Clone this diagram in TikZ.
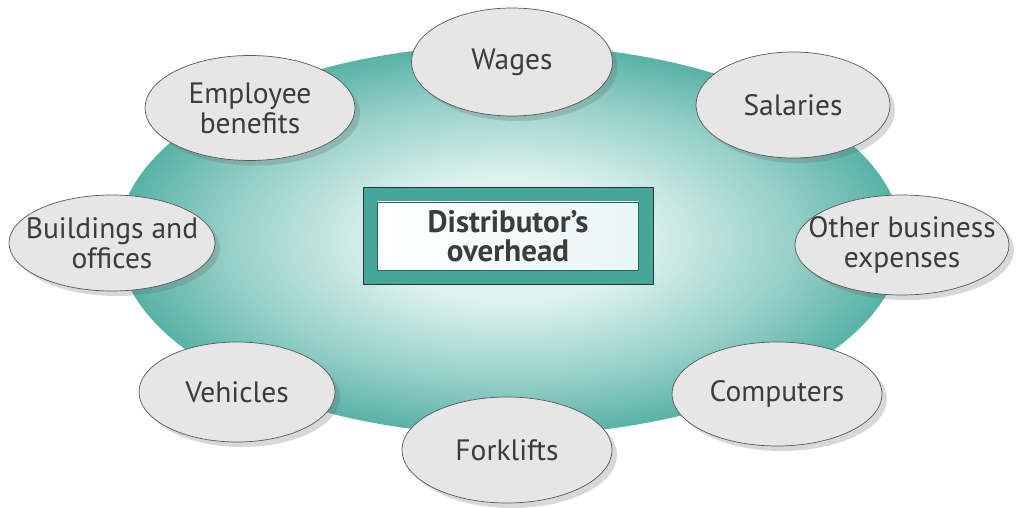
\documentclass[tikz,border=0pt]{standalone}
\usepackage{fontspec}
\setmainfont{PT Sans}
\usetikzlibrary{shapes.geometric,shadows}
\definecolor{tealedge}{RGB}{88,178,166}
\definecolor{tealmid}{RGB}{150,208,200}
\definecolor{tealcenter}{RGB}{222,242,240}
\definecolor{framecol}{RGB}{70,166,152}
\definecolor{txt}{RGB}{60,60,60}
\definecolor{bubble}{RGB}{230,230,230}
\pgfdeclareradialshading{tealglow}{\pgfpoint{0bp}{0bp}}{color(0bp)=(tealcenter); color(8bp)=(tealcenter); color(18bp)=(tealmid); color(25bp)=(tealedge); color(50bp)=(tealedge)}
\begin{document}
\begin{tikzpicture}[x=1pt,y=-1pt,
  bubblenode/.style={ellipse, draw=gray!70!black, line width=0.7pt, fill=bubble, inner xsep=-35pt, inner ysep=-12pt,
    text=txt, align=center, font=\fontsize{29.5}{30}\selectfont,
    drop shadow={shadow xshift=5pt, shadow yshift=-5pt, opacity=0.25, fill=gray!80!black}}]
\useasboundingbox (0,0) rectangle (1026,508);
\fill[white] (0,0) rectangle (1026,508);
% big background ellipse
\path[shading=tealglow] (510,240) ellipse [x radius=392, y radius=195];
% central box
\node (frame) [draw=black!80, line width=1pt, fill=framecol, minimum width=290pt, minimum height=97pt, inner sep=0pt] at (508,236) {};
\node (core) [draw=framecol!60!black, line width=0.5pt, left color=white, right color=tealcenter!70!white, minimum width=261pt, minimum height=68pt, inner sep=0pt, text=txt, align=center, font=\bfseries\fontsize{31}{29}\selectfont] at (508,236) {Distributor’s\\overhead};
% bubbles
\node (wages) [bubblenode, minimum width=201pt, minimum height=108pt] at (512,62) {Wages};
\node (benefits) [bubblenode, minimum width=210pt, minimum height=105pt] at (250,108) {Employee\\benefits};
\node (salaries) [bubblenode, minimum width=194pt, minimum height=106pt] at (793,105) {Salaries};
\node (buildings) [bubblenode, minimum width=206pt, minimum height=96pt] at (112,243) {Buildings and\\offices};
\node (other) [bubblenode, minimum width=214pt, minimum height=100pt] at (902,245) {Other business\\expenses};
\node (vehicles) [bubblenode, minimum width=196pt, minimum height=100pt] at (237,392) {Vehicles};
\node (computers) [bubblenode, minimum width=210pt, minimum height=104pt] at (777,394) {Computers};
\node (forklifts) [bubblenode, minimum width=210pt, minimum height=106pt] at (507,450) {Forklifts};
\end{tikzpicture}
\end{document}
